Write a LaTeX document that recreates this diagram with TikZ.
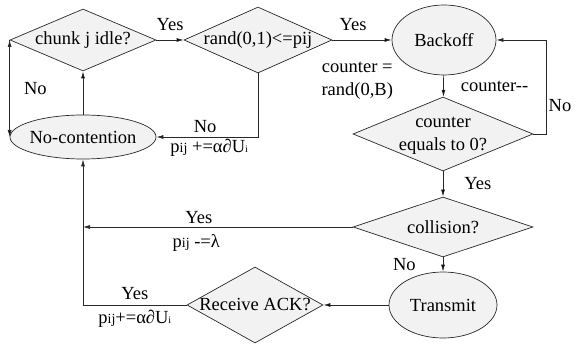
\documentclass[tikz,border=0pt]{standalone}
\usepackage{fontspec}
\setmainfont{Liberation Serif}
\usetikzlibrary{shapes.geometric,arrows.meta}

\definecolor{boxfill}{RGB}{242,242,242}
\definecolor{linecol}{RGB}{40,40,40}
\newcommand{\figfont}{\fontsize{18.5}{23}\selectfont}
\newcommand{\inbox}[1]{\makebox[0pt]{#1}}
\newcommand{\pij}{p{\fontsize{14}{14}\selectfont ij}}
\newcommand{\Ui}{U{\fontsize{10}{10}\selectfont i}}

\tikzset{
  shapebase/.style={draw=linecol, fill=boxfill, line width=0.7pt, inner sep=0pt, font=\figfont},
  decision/.style={shapebase, diamond},
  state/.style={shapebase, ellipse},
  lbl/.style={font=\figfont, inner sep=1pt, align=center},
  flow/.style={draw=linecol, line width=0.7pt, -{Latex[length=7pt,width=4pt]}},
}

\begin{document}
\begin{tikzpicture}[x=1pt,y=-1pt]
  \useasboundingbox (0,0) rectangle (583,344);
  % boxes
  \node[decision, minimum width=146pt, minimum height=62pt] (chunk) at (83,40) {\inbox{chunk j idle?}};
  \node[decision, minimum width=148pt, minimum height=66pt] (rand) at (258,40) {\inbox{rand(0,1)<=pij}};
  \node[state, minimum width=104pt, minimum height=70pt] (backoff) at (444,40) {\inbox{Backoff}};
  \node[state, minimum width=146pt, minimum height=44pt] (nocont) at (83,137) {\inbox{No-contention}};
  \node[decision, minimum width=180pt, minimum height=74pt] (counter) at (443,134)
    {\inbox{\begin{tabular}{@{}c@{}}counter\\equals to 0?\end{tabular}}};
  \node[decision, minimum width=180pt, minimum height=60pt] (collision) at (443,227) {\inbox{collision?}};
  \node[state, minimum width=108pt, minimum height=66pt] (transmit) at (443,305) {\inbox{Transmit}};
  \node[decision, minimum width=136pt, minimum height=76pt] (ack) at (255,305) {\inbox{Receive ACK?}};
  \coordinate (join1) at (nocont.south |- collision.west);

  % connectors
  \path[flow]
    (chunk) edge node (yes1) [lbl, above=8pt] {Yes} (rand)
    (rand) edge node (yes2) [lbl, pos=0.35, above=8pt] {Yes}
           node (init) [lbl, pos=0.42, below=21pt] {counter =\\rand(0,B)} (backoff)
    (chunk.west) edge node (no1) [lbl, right=13pt] {No} (nocont.west)
    (nocont) edge (chunk)
    (backoff) edge node (dec) [lbl, right=16pt] {counter-{}-} (counter)
    (counter) edge node (yes3) [lbl, right=20pt] {Yes} (collision)
    (collision) edge node (no3) [lbl, left=26pt] {No} (transmit)
    (transmit) edge (ack);
  \draw[flow] (rand.south) |- node (no2) [lbl, pos=0.76, above=3pt] {No}
    node (inc1) [lbl, pos=0.74, below=1pt] {\pij\ +=α∂\Ui} (nocont.east);
  \draw[flow] (counter.east) -- ++(13,0) |- node (no4) [lbl, pos=0.15, right=1pt] {No} (backoff.east);
  \draw[flow] (collision.west) -- node (yes4) [lbl, pos=0.57, above=2pt] {Yes}
    node (dec2) [lbl, pos=0.58, below=6pt] {\pij\ -{}=λ} (join1);
  \draw[flow] (ack.west) -| node (yes5) [lbl, pos=0.25, above=4pt] {Yes}
    node (inc2) [lbl, pos=0.25, below=4pt] {\pij+=α∂\Ui} (nocont.south);
\end{tikzpicture}
\end{document}
